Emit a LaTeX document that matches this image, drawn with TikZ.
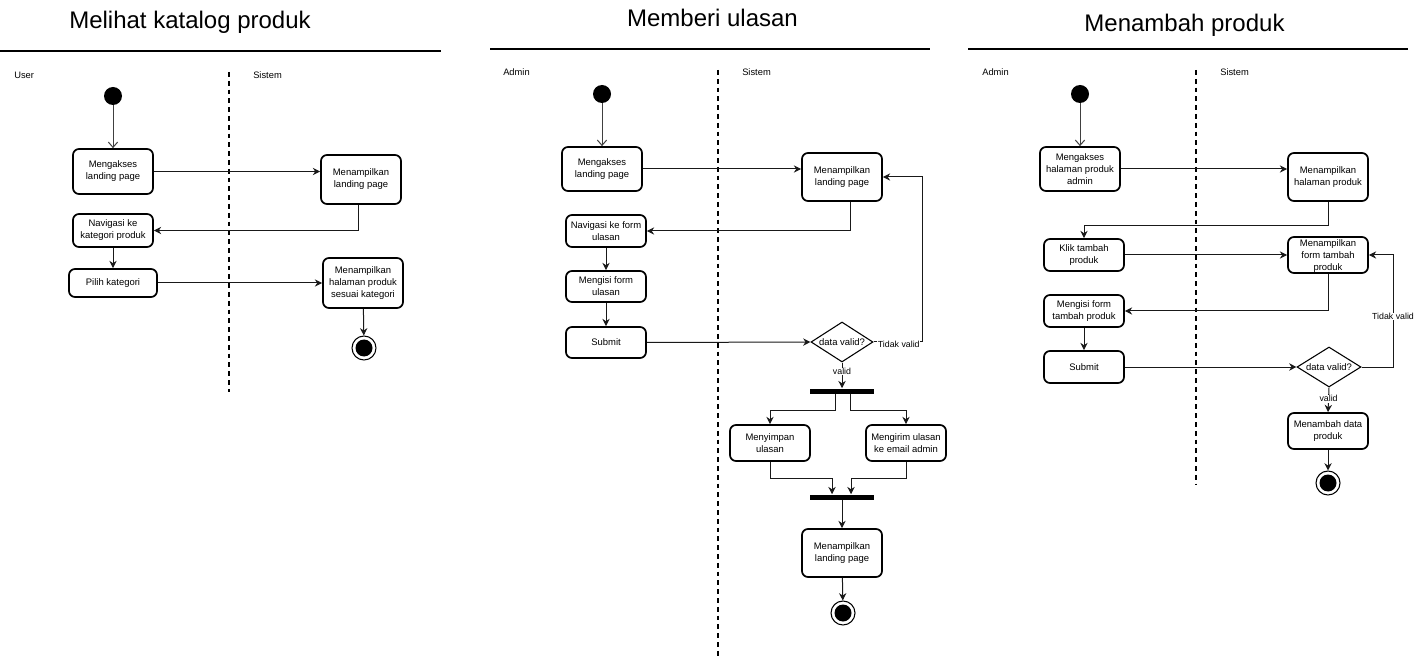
\documentclass[tikz,border=0pt]{standalone}
\usepackage{fontspec}
\setmainfont{Liberation Sans}
\usetikzlibrary{arrows.meta,calc,shapes.geometric}
\begin{document}
\begin{tikzpicture}[x=0.75pt,y=-0.75pt,
  every node/.style={font=\fontsize{7.1pt}{9pt}\selectfont, inner sep=0pt},
  act/.style 2 args={draw, rounded corners=4.5pt, line width=1.3pt, align=center,
    minimum width=#1*0.75pt, minimum height=#2*0.75pt, fill=white},
  startnode/.style={circle, fill=black, minimum size=18*0.75pt},
  endnode/.style={circle, draw=black, line width=0.8pt, minimum size=24*0.75pt,
    path picture={\fill[black] (path picture bounding box.center) circle (8.5*0.75pt);}},
  dec/.style 2 args={diamond, draw, line width=0.8pt, aspect=1.55,
    minimum width=#1*0.75pt, minimum height=#2*0.75pt, align=center},
  bar/.style={fill=black, minimum width=64*0.75pt, minimum height=5*0.75pt},
  arr/.style={draw=black!90, line width=0.75pt, -{Stealth[length=5.5pt,width=5.5pt,inset=1.8pt]}},
  openarr/.style={draw=black!75, line width=0.75pt, -{Straight Barb[length=4pt,width=7pt]}},
  lane/.style={anchor=west, font=\fontsize{7pt}{8pt}\selectfont},
  lbl/.style={fill=white, font=\fontsize{6.6pt}{8pt}\selectfont, inner sep=0.5pt},
  title/.style={anchor=base, font=\fontsize{18pt}{20pt}\selectfont},
  swim/.style={line width=1.4pt, dash pattern=on 3.6pt off 3pt},
  rule/.style={line width=1.1pt}
]
\useasboundingbox (0,0) rectangle (1421,659);

% ================= Panel 1 =================
\node[title] (t1) at (190,29) {Melihat katalog produk};
\draw[rule] (0,51) -- (441,51);
\node[lane] (u1) at (14,75) {User};
\node[lane] (s1l) at (253,75) {Sistem};
\draw[swim] (229,72) -- (229,392);

\node[startnode] (s1) at (113,96) {};
\node[act={80}{45}] (a1) at (113,171.5) {Mengakses\\landing page};
\node[act={80}{49}] (a2) at (361,179.5) {Menampilkan\\landing page};
\node[act={80}{33}] (a3) at (113,230.5) {Navigasi ke\\kategori produk};
\node[act={88}{28}] (a4) at (113,283) {Pilih kategori};
\node[act={80}{50}] (a5) at (363,283) {Menampilkan\\halaman produk\\sesuai kategori};
\node[endnode] (e1) at (364,348) {};

\draw[openarr] (s1) -- (a1);
\draw[arr] (a1.east) -- (a1.east -| a2.west);
\draw[arr] ($(a2.south)+(-3,0)$) |- (a3.east);
\draw[arr] (a3) -- (a4);
\draw[arr] (a4.east) -- (a5.west);
\draw[arr] (a5) -- (e1);

% ================= Panel 2 =================
\node[title] (t2) at (712.5,27) {Memberi ulasan};
\draw[rule] (490,49) -- (930,49);
\node[lane] (u2) at (503,72) {Admin};
\node[lane] (s2l) at (742,72) {Sistem};
\draw[swim] (718,70) -- (718,657);

\node[startnode] (s2) at (602,94) {};
\node[act={80}{44}] (b1) at (602,169) {Mengakses\\landing page};
\node[act={80}{48}] (b2) at (842,177) {Menampilkan\\landing page};
\node[act={80}{32}] (b3) at (606,231) {Navigasi ke form\\ulasan};
\node[act={80}{31}] (b4) at (606,286.5) {Mengisi form\\ulasan};
\node[act={80}{31}] (b5) at (606,342.5) {Submit};
\node[dec={62}{40}] (d2) at (842,342) {data valid?};
\node[bar] (f1) at (842,391) {};
\node[act={80}{36}] (c1) at (770,443) {Menyimpan\\ulasan};
\node[act={80}{36}] (c2) at (906,443) {Mengirim ulasan\\ke email admin};
\node[bar] (f2) at (842,497) {};
\node[act={80}{48}] (b6) at (842,553) {Menampilkan\\landing page};
\node[endnode] (e2) at (843,613) {};
\coordinate (k2) at (922,342);

\draw[openarr] (s2) -- (b1);
\draw[arr] (b1.east) -- (b1.east -| b2.west);
\draw[arr] ($(b2.south)+(8,0)$) |- (b3.east);
\draw[arr] (b3) -- (b4);
\draw[arr] (b4) -- (b5);
\draw[arr] (b5.east) -- (d2.west);
\draw[arr] (d2.east) -- node[lbl, pos=0.52, yshift=-1.5pt] {Tidak valid} (k2) |- (b2.east);
\draw[arr] (d2.south) -- node[lbl, pos=0.35] {valid} (f1.north);
\draw[arr] ($(f1.south)+(-7,0)$) -- ++(0,16.5) -| (c1.north);
\draw[arr] ($(f1.south)+(8,0)$) -- ++(0,16.5) -| (c2.north);
\draw[arr] (c1.south) -- ++(0,17) -| ($(f2.north)+(-10,0)$);
\draw[arr] (c2.south) -- ++(0,17) -| ($(f2.north)+(9,0)$);
\draw[arr] (f2) -- (b6);
\draw[arr] (b6) -- (e2);

% ================= Panel 3 =================
\node[title] (t3) at (1184.5,32) {Menambah produk};
\draw[rule] (968,49) -- (1408,49);
\node[lane] (u3) at (982,72) {Admin};
\node[lane] (s3l) at (1220,72) {Sistem};
\draw[swim] (1196,70) -- (1196,485);

\node[startnode] (s3) at (1080,94) {};
\node[act={80}{44}] (p1) at (1080,169) {Mengakses\\halaman produk\\admin};
\node[act={80}{48}] (p2) at (1328,177) {Menampilkan\\halaman produk};
\node[act={80}{32}] (p3) at (1084,255) {Klik tambah\\produk};
\node[act={80}{36}] (p4) at (1328,255) {};
\node[align=center] (p4t) at (1328,256) {Menampilkan\\form tambah\\produk};
\node[act={80}{32}] (p5) at (1084,311) {Mengisi form\\tambah produk};
\node[act={80}{32}] (p6) at (1084,367) {Submit};
\node[dec={64}{40}] (d3) at (1329,367) {data valid?};
\node[act={80}{36}] (p7) at (1328,431) {Menambah data\\produk};
\node[endnode] (e3) at (1328,483) {};
\coordinate (k3) at (1393,367);

\draw[openarr] (s3) -- (p1);
\draw[arr] (p1.east) -- (p1.east -| p2.west);
\draw[arr] (p2.south) -- ++(0,24) -| (p3.north);
\draw[arr] (p3.east) -- (p3.east -| p4.west);
\draw[arr] (p4.south) |- (p5.east);
\draw[arr] (p5) -- (p6);
\draw[arr] (p6.east) -- (d3.west);
\draw[arr] (d3.east) -- (k3) |- node[lbl, pos=0.225] {Tidak valid} (p4.east);
\draw[arr] (d3.south) -- node[lbl, pos=0.45] {valid} (p7.north);
\draw[arr] (p7) -- (e3);
\end{tikzpicture}
\end{document}
